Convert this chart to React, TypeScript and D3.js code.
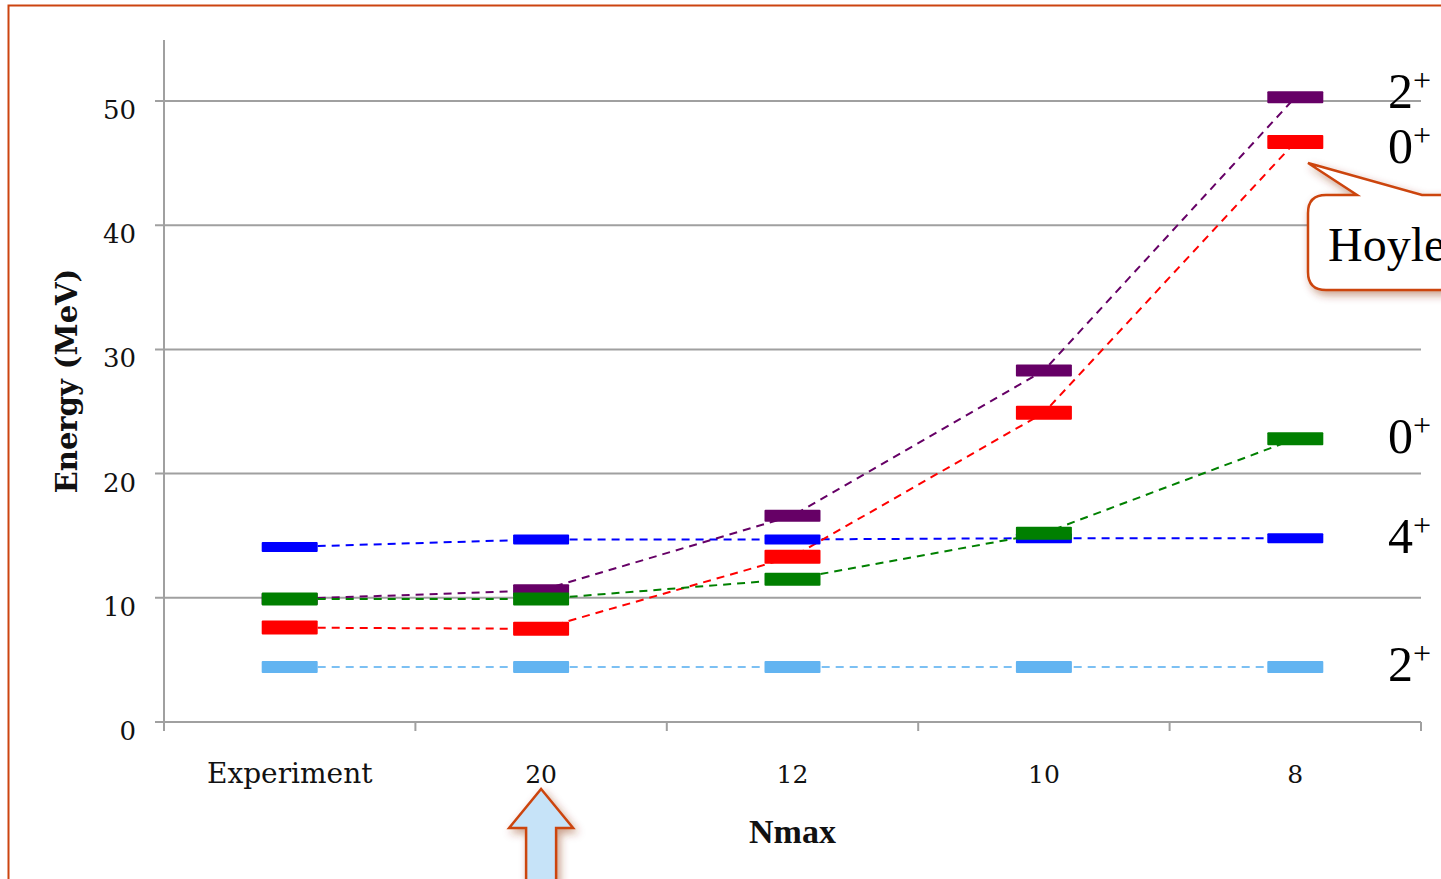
import React from "react";
import * as d3 from "d3";

// Nmax columns (first column is the measured spectrum)
const categories = ["Experiment", "20", "12", "10", "8"];
const yTicks = [0, 10, 20, 30, 40, 50];

// Level energies in MeV per column
const firstTwo = [4.43, 4.43, 4.43, 4.43, 4.43];
const hoyleZero = [7.6, 7.5, 13.3, 24.9, 46.7];
const secondTwo = [9.9, 10.6, 16.6, 28.3, 50.3];
const thirdZero = [9.9, 9.9, 11.5, 15.2, 22.8];
const firstFour = [14.1, 14.7, 14.7, 14.8, 14.8];

type Series = { key: string; values: number[]; mark: string; dash: string; h: number; label: string; dy: number };

// drawing order: later entries sit on top
const series: Series[] = [
  { key: "2a", values: firstTwo, mark: "#62b4f1", dash: "#7cc0f3", h: 12, label: "2", dy: 14 },
  { key: "4", values: firstFour, mark: "#0000ff", dash: "#0000ff", h: 10, label: "4", dy: 15 },
  { key: "2b", values: secondTwo, mark: "#660066", dash: "#660066", h: 12, label: "2", dy: 11 },
  { key: "0h", values: hoyleZero, mark: "#ff0000", dash: "#ff0000", h: 14, label: "0", dy: 21 },
  { key: "0c", values: thirdZero, mark: "#007f00", dash: "#008000", h: 13, label: "0", dy: 14 },
];

const W = 1441;
const H = 879;
const left = 164;
const right = 1421;
const bottom = 722;

export default function App() {
  const x = d3.scaleBand<string>().domain(categories).range([left, right]).padding(0);
  const y = d3.scaleLinear().domain([0, 55]).range([bottom, bottom - 55 * 12.42]);
  const cx = (c: string) => (x(c) as number) + x.bandwidth() / 2;
  const line = d3
    .line<number>()
    .x((_, i) => cx(categories[i]))
    .y((v) => y(v));
  const markW = 56;
  const boundaries = [...categories.map((c) => x(c) as number), right];
  const last = categories.length - 1;
  const serif = "'DejaVu Serif', Georgia, serif";
  const times = "'Liberation Serif', 'Times New Roman', serif";
  const rust = "#cc4410";

  // callout box with a tail pointing at the Hoyle level
  const bx = 1308, by = 195, bb = 290, r = 18;
  const tipX = 1308, tipY = 163;
  const callout = `M${bx + r},${by} L1357,${by} L${tipX},${tipY} L1422,${by} L1480,${by} L1480,${bb} L${bx + r},${bb} Q${bx},${bb} ${bx},${bb - r} L${bx},${by + r} Q${bx},${by} ${bx + r},${by} Z`;

  // up arrow under the Nmax = 20 column
  const ax = cx("20");
  const arrow = `M${ax},789 L${ax + 32},828 L${ax + 15},828 L${ax + 15},900 L${ax - 15},900 L${ax - 15},828 L${ax - 32},828 Z`;

  return (
    <svg
      width={W}
      height={H}
      viewBox={`0 0 ${W} ${H}`}
      style={{ position: "absolute", left: 0, top: 0, display: "block", background: "#fff" }}
    >
      <defs>
        <filter id="soft" x="-30%" y="-30%" width="160%" height="160%">
          <feDropShadow dx="3" dy="4" stdDeviation="4" floodColor="#8a2a08" floodOpacity="0.45" />
        </filter>
      </defs>

      <rect x={8.5} y={5.5} width={1500} height={1000} fill="none" stroke={rust} strokeWidth={2} />

      {/* grid and axes */}
      {yTicks.map((t) => (
        <g key={t}>
          <line x1={155} x2={right} y1={y(t)} y2={y(t)} stroke="#a0a0a0" strokeWidth={2} />
          <text x={136} y={y(t) + 18} textAnchor="end" fontFamily={serif} fontSize={26} fill="#111">
            {t}
          </text>
        </g>
      ))}
      <line x1={left} x2={left} y1={40} y2={bottom} stroke="#a0a0a0" strokeWidth={2} />
      {boundaries.map((b, i) => (
        <line key={i} x1={b} x2={b} y1={bottom} y2={731} stroke="#a0a0a0" strokeWidth={2} />
      ))}
      {categories.map((c) => (
        <text key={c} x={cx(c)} y={783} textAnchor="middle" fontFamily={serif} fontSize={c === "Experiment" ? 28 : 25} fill="#111">
          {c}
        </text>
      ))}
      <text x={cx("12")} y={843} textAnchor="middle" fontFamily={times} fontWeight="bold" fontSize={34} fill="#111">
        Nmax
      </text>
      <text
        transform={`translate(77,381) rotate(-90)`}
        textAnchor="middle"
        fontFamily={serif}
        fontWeight="bold"
        fontSize={29}
        fill="#111"
      >
        Energy (MeV)
      </text>

      {/* connecting dashed lines */}
      {series.map((s) => (
        <path key={s.key} d={line(s.values) ?? ""} fill="none" stroke={s.dash} strokeWidth={2} strokeDasharray="8 6" />
      ))}

      {/* level bars */}
      {series.map((s) =>
        s.values.map((v, i) => (
          <rect
            key={s.key + i}
            x={cx(categories[i]) - markW / 2}
            y={y(v) - s.h / 2}
            width={markW}
            height={s.h}
            fill={s.mark}
            rx={1}
          />
        ))
      )}

      {/* spin-parity labels at the Nmax = 8 column */}
      {series.map((s) => (
        <text key={"l" + s.key} x={1388} y={y(s.values[last]) + s.dy} fontFamily={times} fontSize={50} fill="#000">
          {s.label}
          <tspan fontSize={32} dy={-17}>
            +
          </tspan>
        </text>
      ))}

      <path d={callout} fill="#fff" stroke={rust} strokeWidth={2.5} filter="url(#soft)" />
      <text x={1328} y={261} fontFamily={times} fontSize={48} fill="#000">
        Hoyle state
      </text>

      <path d={arrow} fill="#c6e3f8" stroke={rust} strokeWidth={2.5} filter="url(#soft)" />
    </svg>
  );
}
